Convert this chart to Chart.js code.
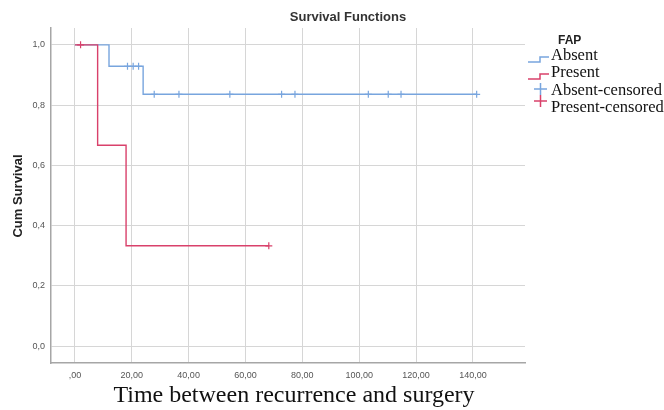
<!DOCTYPE html>
<html>
<head>
<meta charset="utf-8">
<script src="https://cdn.jsdelivr.net/npm/chart.js@4/dist/chart.umd.min.js"></script>
<style>
  body { margin: 0; background: #fff; }
  #wrap { width: 664px; height: 410px; }
</style>
</head>
<body>
<div id="wrap"><canvas id="survChart" width="664" height="410"></canvas></div>
<script>
// ==============================
// DATA
// ==============================
const absentTimes = [0, 12, 24, 141.3];
const absentSurv = [1, 0.929, 0.836, 0.836];

const presentTimes = [0, 8, 18, 68.2];
const presentSurv = [1, 0.667, 0.333, 0.333];

const absentCensorTimes = [18.5, 20.5, 22.4, 27.9, 36.6, 54.5, 72.7, 77.4, 103.2, 110.2, 114.7, 141.3];
const absentCensorSurv = [0.929, 0.929, 0.929, 0.836, 0.836, 0.836, 0.836, 0.836, 0.836, 0.836, 0.836, 0.836];

const presentCensorTimes = [2, 68.2];
const presentCensorSurv = [1, 0.333];

const xTicks = [0, 20, 40, 60, 80, 100, 120, 140];
const xTickLabels = [",00", "20,00", "40,00", "60,00", "80,00", "100,00", "120,00", "140,00"];
const yTicks = [0, 0.2, 0.4, 0.6, 0.8, 1.0];
const yTickLabels = ["0,0", "0,2", "0,4", "0,6", "0,8", "1,0"];

const legendTitle = "FAP";
const legendLabels = ["Absent", "Present", "Absent-censored", "Present-censored"];

const BLUE = "#78a5de";
const RED = "#d9416b";

function toPoints(xs, ys) {
  return xs.map((x, i) => ({ x: x, y: ys[i] }));
}

// ==============================
// TEXT + LEGEND PLUGIN
// ==============================
const decorPlugin = {
  id: "decor",
  afterDraw(chart) {
    const ctx = chart.ctx;
    ctx.save();

    // title
    ctx.fillStyle = "#333";
    ctx.font = "bold 13px 'Liberation Sans', Arial, sans-serif";
    ctx.textAlign = "center";
    ctx.textBaseline = "middle";
    ctx.fillText("Survival Functions", 348, 17);

    // y axis title
    ctx.save();
    ctx.translate(18, 196);
    ctx.rotate(-Math.PI / 2);
    ctx.fillStyle = "#222";
    ctx.font = "bold 13px 'Liberation Sans', Arial, sans-serif";
    ctx.fillText("Cum Survival", 0, 0);
    ctx.restore();

    // x axis title
    ctx.fillStyle = "#111";
    ctx.font = "24px 'Liberation Serif', 'Times New Roman', serif";
    ctx.fillText("Time between recurrence and surgery", 294, 396);

    // legend
    ctx.fillStyle = "#222";
    ctx.font = "bold 12px 'Liberation Sans', Arial, sans-serif";
    ctx.textAlign = "left";
    ctx.fillText(legendTitle, 558, 41);

    ctx.font = "16.5px 'Liberation Serif', 'Times New Roman', serif";
    const rows = [56, 73, 91, 108];
    legendLabels.forEach((label, i) => {
      ctx.fillStyle = "#111";
      ctx.fillText(label, 551, rows[i]);
    });

    ctx.lineWidth = 1.5;
    // step icons
    [[BLUE, 59], [RED, 76]].forEach(([c, y]) => {
      ctx.strokeStyle = c;
      ctx.beginPath();
      ctx.moveTo(528, y + 3);
      ctx.lineTo(540, y + 3);
      ctx.lineTo(540, y - 2);
      ctx.lineTo(549, y - 2);
      ctx.stroke();
    });
    // censor icons
    [[BLUE, 89], [RED, 101]].forEach(([c, y]) => {
      ctx.strokeStyle = c;
      ctx.beginPath();
      ctx.moveTo(534, y);
      ctx.lineTo(547, y);
      ctx.moveTo(540.5, y - 6);
      ctx.lineTo(540.5, y + 6);
      ctx.stroke();
    });

    ctx.restore();
  }
};

// ==============================
// CHART
// ==============================
const ctx = document.getElementById("survChart");

new Chart(ctx, {
  type: "scatter",
  data: {
    datasets: [
      {
        label: "Present",
        data: toPoints(presentTimes, presentSurv),
        showLine: true,
        stepped: true,
        borderColor: RED,
        borderWidth: 1.4,
        pointRadius: 0,
        order: 1
      },
      {
        label: "Absent",
        data: toPoints(absentTimes, absentSurv),
        showLine: true,
        stepped: true,
        borderColor: BLUE,
        borderWidth: 1.4,
        pointRadius: 0,
        order: 4
      },
      {
        label: "Present-censored",
        data: toPoints(presentCensorTimes, presentCensorSurv),
        pointStyle: "cross",
        pointRadius: 3.5,
        borderColor: RED,
        borderWidth: 1.2,
        order: 0
      },
      {
        label: "Absent-censored",
        data: toPoints(absentCensorTimes, absentCensorSurv),
        pointStyle: "cross",
        pointRadius: 3.5,
        borderColor: BLUE,
        borderWidth: 1.2,
        order: 3
      }
    ]
  },
  options: {
    responsive: false,
    animation: false,
    events: [],
    layout: { padding: { left: 0, top: 28, right: 139, bottom: 0 } },
    plugins: {
      legend: { display: false },
      title: { display: false },
      tooltip: { enabled: false }
    },
    scales: {
      x: {
        type: "linear",
        min: -8.4,
        max: 158.3,
        afterFit(scale) { scale.height = 47; },
        afterBuildTicks(scale) { scale.ticks = xTicks.map(v => ({ value: v })); },
        grid: { color: "#d6d6d6", lineWidth: 1, drawTicks: false },
        border: { color: "#a6a6a6", width: 1.5 },
        ticks: {
          padding: 7,
          color: "#555",
          font: { family: "'Liberation Sans', Arial, sans-serif", size: 9 },
          maxRotation: 0,
          callback: (v) => {
            const i = xTicks.indexOf(v);
            return i >= 0 ? xTickLabels[i] : "";
          }
        }
      },
      y: {
        type: "linear",
        min: -0.056,
        max: 1.056,
        afterFit(scale) { scale.width = 51; },
        afterBuildTicks(scale) { scale.ticks = yTicks.map(v => ({ value: v })); },
        grid: { color: "#d6d6d6", lineWidth: 1, drawTicks: false },
        border: { color: "#a6a6a6", width: 1.5 },
        ticks: {
          padding: 6,
          color: "#555",
          font: { family: "'Liberation Sans', Arial, sans-serif", size: 9 },
          callback: (v) => {
            const i = yTicks.findIndex(t => Math.abs(t - v) < 1e-6);
            return i >= 0 ? yTickLabels[i] : "";
          }
        }
      }
    }
  },
  plugins: [decorPlugin]
});
</script>
</body>
</html>
